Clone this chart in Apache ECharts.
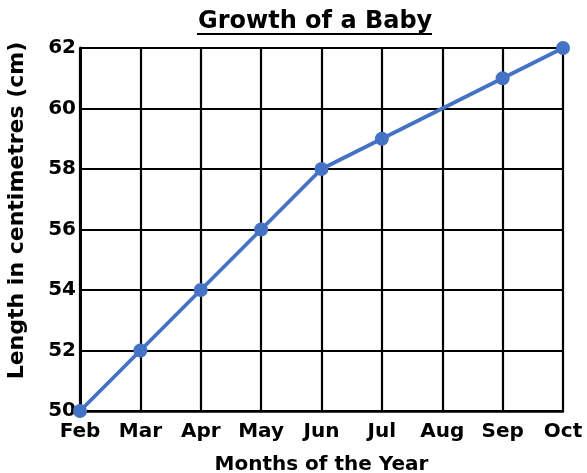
<!DOCTYPE html>
<html>
<head>
<meta charset="utf-8">
<style>
  html, body { margin: 0; padding: 0; background: #fff; }
  #chart { width: 587px; height: 473px; }
</style>
<script src="https://cdn.jsdelivr.net/npm/echarts@6/dist/echarts.min.js"></script>
</head>
<body>
<div id="chart"></div>
<script>
var months = ['Feb', 'Mar', 'Apr', 'May', 'Jun', 'Jul', 'Aug', 'Sep', 'Oct'];
var lengths = [50, 52, 54, 56, 58, 59, 60, 61, 62];
// Aug is drawn on the line but has no dot in the original
var hideDot = ['Aug'];

var font = 'DejaVu Sans';
var ink = '#000';
var blue = '#4472C4';

var chart = echarts.init(document.getElementById('chart'), null, { renderer: 'canvas' });
chart.setOption({
  animation: false,
  backgroundColor: '#fff',
  title: {
    text: 'Growth of a Baby',
    left: 193,
    top: 5,
    textStyle: { color: ink, fontFamily: font, fontSize: 24, fontWeight: 'bold' }
  },
  graphic: [{
    type: 'line',
    shape: { x1: 197, y1: 34, x2: 432, y2: 34 },
    style: { stroke: ink, lineWidth: 2 }
  }],
  // v6 shrinks the grid to keep names inside the canvas unless told not to
  grid: { left: 80, right: 24, top: 48, bottom: 62, containLabel: false, outerBoundsMode: 'none' },
  xAxis: {
    type: 'category',
    data: months,
    boundaryGap: false,
    name: 'Months of the Year',
    nameLocation: 'middle',
    nameGap: 44,
    nameTextStyle: { color: ink, fontFamily: font, fontSize: 20, fontWeight: 'bold' },
    axisLine: { lineStyle: { color: ink, width: 2.5 } },
    axisTick: { show: false },
    axisLabel: { color: ink, fontFamily: font, fontSize: 20, fontWeight: 'bold', margin: 11, interval: 0 },
    splitLine: { show: true, lineStyle: { color: ink, width: 2.2 } }
  },
  yAxis: {
    type: 'value',
    min: 50,
    max: 62,
    interval: 2,
    name: 'Length in centimetres (cm)',
    nameLocation: 'middle',
    nameGap: 52,
    nameTextStyle: { color: ink, fontFamily: font, fontSize: 22, fontWeight: 'bold', padding: [0, 0, 0, 38] },
    axisLine: { show: true, lineStyle: { color: ink, width: 3 } },
    axisTick: { show: false },
    axisLabel: { color: ink, fontFamily: font, fontSize: 20, fontWeight: 'bold', margin: 4 },
    splitLine: { show: true, lineStyle: { color: ink, width: 2.2 } }
  },
  series: [{
    type: 'line',
    data: lengths.map(function (v, i) {
      return hideDot.indexOf(months[i]) >= 0 ? { value: v, symbol: 'none' } : v;
    }),
    symbol: 'circle',
    symbolSize: 14,
    showAllSymbol: true,
    lineStyle: { color: blue, width: 3.8 },
    itemStyle: { color: blue },
    z: 5
  }]
});
</script>
</body>
</html>
